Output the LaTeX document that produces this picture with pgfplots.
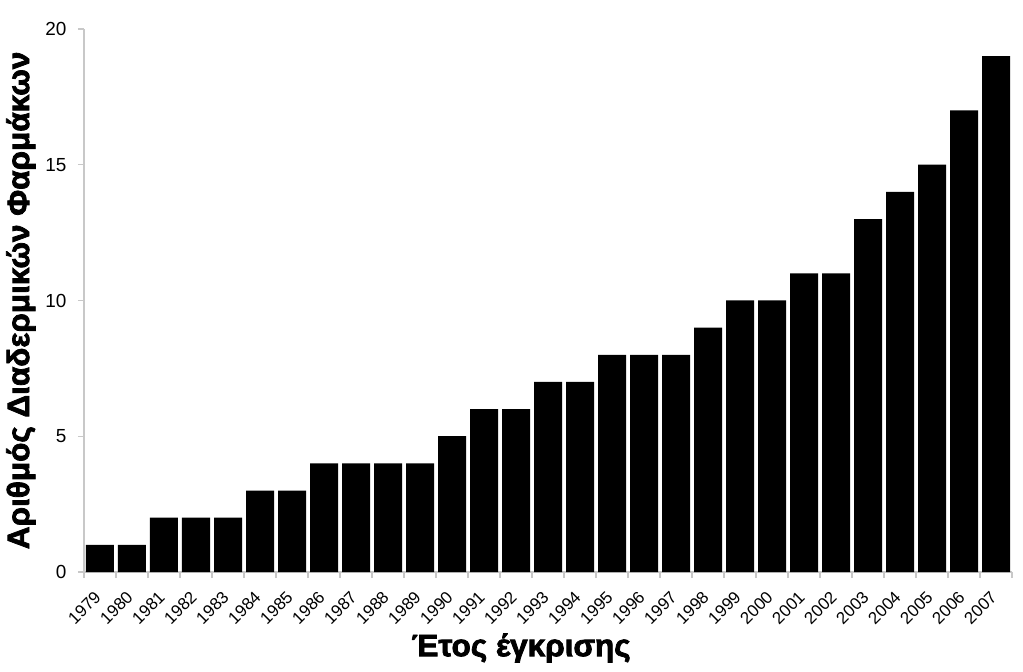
\documentclass[border=0pt]{standalone}
\usepackage{fontspec}
\setmainfont{Liberation Sans}
\newfontfamily\lblfont[FakeStretch=1.02,FakeBold=2.5]{Liberation Sans}
\usepackage{pgfplots}
\pgfplotsset{compat=1.18}

\definecolor{axisgray}{RGB}{200,200,200}

\begin{document}
\begin{tikzpicture}
\begin{axis}[
    name=ax,
    scale only axis,
    width=928bp, height=543bp,
    xmin=-0.5, xmax=28.5,
    ymin=0, ymax=20,
    ytick={0,5,10,15,20},
    xtick={-0.5,0.5,...,28.5},
    x tick label as interval,
    xticklabels={1979,1980,1981,1982,1983,1984,1985,1986,1987,1988,1989,1990,1991,1992,1993,1994,1995,1996,1997,1998,1999,2000,2001,2002,2003,2004,2005,2006,2007},
    axis x line*=bottom, axis y line*=left,
    axis line style={axisgray, line width=1.2bp},
    tick style={axisgray, line width=1.2bp},
    tick align=outside,
    major tick length=6bp,
    tick label style={text=black},
    yticklabel style={font=\fontsize{19}{22}\selectfont, xshift=-8bp},
    xticklabel style={font=\fontsize{17}{20}\selectfont, rotate=45, anchor=east, inner sep=1bp, xshift=-12bp, yshift=-10bp},
    /pgf/number format/assume math mode=true,
    xlabel={Έτος έγκρισης},
    ylabel={Αριθμός Διαδερμικών Φαρμάκων},
    xlabel style={font=\lblfont\bfseries\fontsize{31}{34}\selectfont, at={(axis description cs:0.471,-0.14)}, anchor=center},
    ylabel style={font=\lblfont\bfseries\fontsize{31}{34}\selectfont, at={(axis description cs:-0.068,0.5)}, anchor=center, rotate=0},
    ybar, bar width=0.875, bar shift=0pt,
    clip=false,
]
\addplot[fill=black, draw=none] coordinates {
    (0,1) (1,1) (2,2) (3,2) (4,2) (5,3) (6,3) (7,4) (8,4) (9,4)
    (10,4) (11,5) (12,6) (13,6) (14,7) (15,7) (16,8) (17,8) (18,8) (19,9)
    (20,10) (21,10) (22,11) (23,11) (24,13) (25,14) (26,15) (27,17) (28,19)
};
\end{axis}
\path ([xshift=-84bp,yshift=-100bp]ax.south west) rectangle ([xshift=11bp,yshift=29bp]ax.north east);
\end{tikzpicture}
\end{document}
